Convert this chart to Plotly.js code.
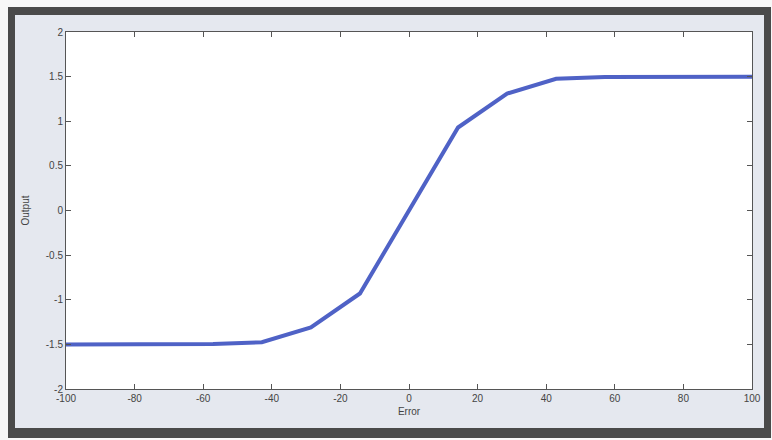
<!DOCTYPE html>
<html>
<head>
<meta charset="utf-8">
<script src="https://cdn.plot.ly/plotly-3.0.1.min.js"></script>
<style>
  html, body { margin: 0; padding: 0; background: #f7f7f7; }
  #frame { position: absolute; left: 8px; top: 7px; width: 763px; height: 431px; background: #4a4a4a; }
  #chart { position: absolute; left: 15px; top: 15px; width: 749px; height: 413px; }
</style>
</head>
<body>
<div id="frame"></div>
<div id="chart"></div>
<script>
const errorValues = [-100, -85.7, -71.4, -57.1, -42.9, -28.6, -14.3, 0, 14.3, 28.6, 42.9, 57.1, 71.4, 85.7, 100];
const outputValues = [-1.5, -1.5, -1.5, -1.497, -1.475, -1.31, -0.93, 0, 0.93, 1.31, 1.475, 1.497, 1.5, 1.5, 1.5];
const xTicks = [-100, -80, -60, -40, -20, 0, 20, 40, 60, 80, 100];
const yTicks = [-2, -1.5, -1, -0.5, 0, 0.5, 1, 1.5, 2];

const axisCommon = {
  showgrid: false,
  zeroline: false,
  showline: true,
  linecolor: '#555',
  linewidth: 1,
  mirror: 'ticks',
  ticks: 'inside',
  ticklen: 5,
  tickcolor: '#555',
  tickfont: {family: 'Arial, Liberation Sans, sans-serif', size: 10, color: '#444'}
};

Plotly.newPlot('chart', [{
  x: errorValues,
  y: outputValues,
  type: 'scatter',
  mode: 'lines',
  line: {color: '#4f62c6', width: 4},
  hoverinfo: 'none'
}], {
  width: 749,
  height: 413,
  margin: {l: 51, r: 12, t: 17, b: 39},
  paper_bgcolor: '#e5e8ef',
  plot_bgcolor: '#ffffff',
  showlegend: false,
  xaxis: Object.assign({}, axisCommon, {
    range: [-100, 100],
    tickvals: xTicks,
    ticktext: xTicks.map(String),
    title: {text: 'Error', font: {family: 'Arial, Liberation Sans, sans-serif', size: 10, color: '#444'}, standoff: 4}
  }),
  yaxis: Object.assign({}, axisCommon, {
    range: [-2, 2],
    tickvals: yTicks,
    ticktext: yTicks.map(String),
    title: {text: 'Output', font: {family: 'Arial, Liberation Sans, sans-serif', size: 10, color: '#444'}, standoff: 14}
  })
}, {displayModeBar: false, staticPlot: true});
</script>
</body>
</html>
